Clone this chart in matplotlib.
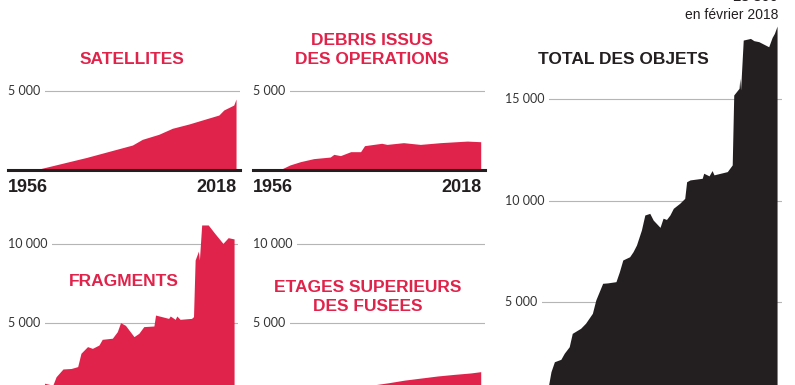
import matplotlib
matplotlib.use("Agg")
import matplotlib.pyplot as plt

# data (number of objects per year)
sat_years = [1957, 1972.6, 1986.6, 1989.6, 1994.6, 1998.7, 2003.7, 2012.8, 2014.3, 2017.3, 2018]
sat_vals = [0, 790, 1580, 1940, 2260, 2640, 2910, 3480, 3800, 4110, 4490]

deb_years = [1957, 1960.2, 1963.4, 1967.4, 1972.4, 1973.5, 1975.5, 1978.6, 1981.6, 1982.8,
             1988, 1989.6, 1994.6, 1999.7, 2005.8, 2013.9, 2018]
deb_vals = [0, 320, 530, 720, 820, 990, 910, 1160, 1160, 1540,
            1690, 1620, 1730, 1620, 1730, 1830, 1790]

frag_years = [1959, 1960.1, 1962.6, 1963.6, 1965.7, 1968.2, 1970.2, 1971.2, 1973.2, 1974.7,
              1976.7, 1977.7, 1980.8, 1982.3, 1983.3, 1984.8, 1987.4, 1988.9, 1990.4, 1993.5,
              1994, 1998, 1998.5, 2000, 2000.5, 2001.5, 2005, 2005.6, 2006.1, 2007.1,
              2007.4, 2008.1, 2010.1, 2012.1, 2014.6, 2016.2, 2018]
frag_vals = [0, 1220, 1100, 1630, 2120, 2150, 2270, 3110, 3530, 3420,
             3630, 3990, 4060, 4470, 5040, 4870, 4160, 4370, 4790, 4830,
             5520, 5310, 5460, 5250, 5460, 5250, 5310, 5420, 8990, 9550,
             8990, 11200, 11200, 10670, 10040, 10400, 10320]

etg_years = [1957, 1960, 1965, 1970, 1975, 1980, 1985, 1990, 1995, 2000, 2005, 2010, 2015, 2018]
etg_vals = [0, 50, 300, 500, 700, 900, 1100, 1250, 1420, 1550, 1680, 1780, 1870, 1950]

tot_years = [1957, 1958.5, 1959.4, 1961.1, 1962, 1963.3, 1964.1, 1966.3, 1967.6, 1969.4,
             1970.3, 1971.2, 1972.1, 1973.4, 1975.6, 1976.5, 1977.4, 1978.3, 1979.2, 1980.1,
             1981, 1982.3, 1983.2, 1984.5, 1985.4, 1987.2, 1988, 1988.9, 1989.8, 1990.7,
             1992.4, 1993.7, 1994.2, 1995.1, 1998.3, 1998.7, 2000.1, 2000.9, 2001.4, 2004.9,
             2006.2, 2006.6, 2008, 2008.2, 2008.4, 2009.1, 2011, 2011.9, 2013.2, 2015.8,
             2016.7, 2017.3, 2018]
tot_vals = [0, 1570, 2060, 2180, 2480, 2800, 3460, 3710, 3960, 4450,
            5110, 5520, 5930, 5950, 6010, 6500, 7080, 7160, 7240, 7490,
            7820, 8560, 9300, 9380, 9050, 8690, 9140, 9080, 9300, 9630,
            9880, 10120, 10940, 11030, 11110, 11360, 11230, 11490, 11280, 11440,
            11770, 15220, 15550, 16040, 15470, 17930, 18010, 17900, 17850, 17600,
            18060, 18260, 18620]

RED = "#E0234B"
BLACK = "#231F20"
GRID = "#B5B5B5"
W, H = 795, 385

title_font = ["Liberation Sans", "DejaVu Sans"]
tick_font = ["Lato", "DejaVu Sans"]

fig = plt.figure(figsize=(W / 100, H / 100), dpi=100)


def panel(left, right, top, base, xlim, ymax):
    # axes placed in pixel units of the picture (y measured from the top)
    ax = fig.add_axes([left / W, (H - base) / H, (right - left) / W, (base - top) / H])
    ax.set_xlim(*xlim)
    ax.set_ylim(0, ymax)
    ax.axis("off")
    return ax


def grid(ax, values):
    for v in values:
        ax.axhline(v, color=GRID, lw=0.8, zorder=1)
        ax.text(0, v, f"{v:,}".replace(",", " "), transform=ax.get_yaxis_transform(),
                ha="left", va="center", fontsize=9, color="#333333", family=tick_font,
                zorder=5, bbox=dict(boxstyle="square,pad=0.35", fc="white", ec="none"))


def title(x, y, s, color=RED, size=12.5):
    fig.text(x / W, 1 - y / H, s, ha="center", va="center", color=color,
             fontsize=size, fontweight="bold", family=title_font, linespacing=1.35)


def years(ax):
    ax.axhline(0, color=BLACK, lw=2.2, clip_on=False, zorder=4)
    ax.text(0, -0.1, "1956", transform=ax.transAxes, ha="left", va="top",
            fontsize=13, fontweight="bold", family=title_font, color=BLACK)
    ax.text(0.985, -0.1, "2018", transform=ax.transAxes, ha="right", va="top",
            fontsize=13, fontweight="bold", family=title_font, color=BLACK)


# satellites
ax = panel(8, 240, 80, 170, (1948.9, 2019.2), 5696)
grid(ax, [5000])
ax.fill_between(sat_years, sat_vals, 0, color=RED, lw=0, zorder=2)
years(ax)
title(132, 60, "SATELLITES")

# debris issus des operations
ax = panel(253, 485, 80, 170, (1949.0, 2019.3), 5696)
grid(ax, [5000])
ax.fill_between(deb_years, deb_vals, 0, color=RED, lw=0, zorder=2)
years(ax)
title(372, 50, "DEBRIS ISSUS\nDES OPERATIONS")

# fragments
ax = panel(8, 238, 210, 402.6, (1948.9, 2019.2), 12144)
grid(ax, [5000, 10000])
ax.fill_between(frag_years, frag_vals, 0, color=RED, lw=0, zorder=2)
title(124, 282, "FRAGMENTS")

# etages superieurs des fusees
ax = panel(253, 485, 210, 402.6, (1949.0, 2019.3), 12144)
grid(ax, [5000, 10000])
ax.fill_between(etg_years, etg_vals, 0, color=RED, lw=0, zorder=2)
title(368, 297, "ETAGES SUPERIEURS\nDES FUSEES")

# total des objets
ax = panel(505, 782, 0, 403.5, (1946.4, 2019.3), 19906)
grid(ax, [5000, 10000, 15000])
ax.fill_between(tot_years, tot_vals, 0, color=BLACK, lw=0, zorder=2)
title(623, 60, "TOTAL DES OBJETS", color=BLACK)

fig.text(778 / W, 1 - 15 / H, "en février 2018", ha="right", va="center",
         fontsize=10, family=title_font, color=BLACK)
fig.text(778 / W, 1 - 4 / H, "18 800", ha="right", va="bottom",
         fontsize=10.5, fontweight="bold", family=title_font, color=BLACK)

fig.savefig("out.png", dpi=100, facecolor="white")
